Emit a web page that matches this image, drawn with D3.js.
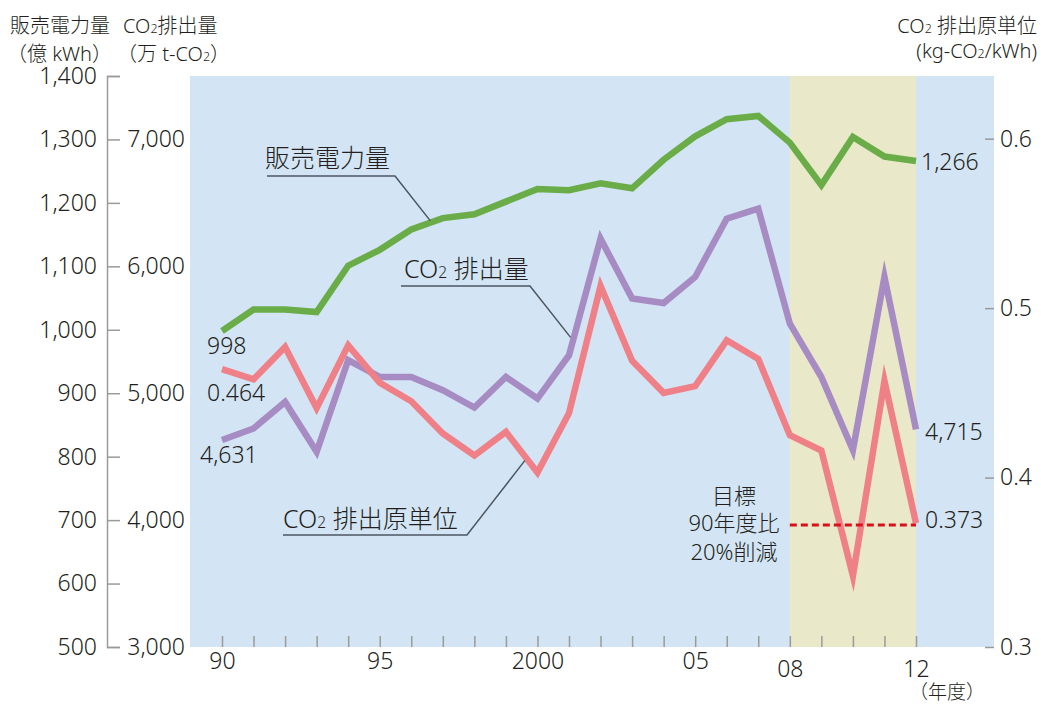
<!DOCTYPE html>
<html>
<head>
<meta charset="utf-8">
<title>販売電力量・CO2排出量・CO2排出原単位</title>
<script src="https://cdn.jsdelivr.net/npm/d3@7"></script>
<style>
  body { margin: 0; background: #fff; }
  svg text { font-family: "Noto Sans", "Noto Sans CJK JP", sans-serif; font-weight: 300; fill: #231f20; }
</style>
</head>
<body>
<div id="chart"></div>
<script>
// data (fiscal years 1990-2012)
var years = [1990, 1991, 1992, 1993, 1994, 1995, 1996, 1997, 1998, 1999, 2000, 2001,
             2002, 2003, 2004, 2005, 2006, 2007, 2008, 2009, 2010, 2011, 2012];
// 販売電力量 (億kWh)
var sales = [998, 1032, 1032, 1028, 1101, 1126, 1158, 1176, 1182, 1202, 1222, 1220,
             1231, 1223, 1268, 1305, 1332, 1337, 1295, 1228, 1304, 1273, 1266];
// CO2排出量 (万t-CO2)
var co2 = [4631, 4722, 4931, 4538, 5260, 5128, 5128, 5024, 4887, 5128, 4958, 5299,
           6218, 5746, 5711, 5916, 6376, 6454, 5549, 5128, 4551, 5916, 4715];
// CO2排出原単位 (kg-CO2/kWh)
var intensity = [0.464, 0.458, 0.477, 0.441, 0.478, 0.456, 0.445, 0.426, 0.413, 0.427, 0.403, 0.438,
                 0.513, 0.469, 0.450, 0.454, 0.481, 0.470, 0.425, 0.416, 0.342, 0.457, 0.373];

var labelYears = [1990, 1995, 2000, 2005, 2008, 2012];
var yearLabels = ["90", "95", "2000", "05", "08", "12"];
var salesTicks = [500, 600, 700, 800, 900, 1000, 1100, 1200, 1300, 1400];
var co2Ticks = [3000, 4000, 5000, 6000, 7000];
var intensityTicks = [0.3, 0.4, 0.5, 0.6];
var bandYears = [2008, 2012];
var target = 0.372;   // 90年度比20%削減

var width = 1041, height = 706;
var plotTop = 76, plotBottom = 647, plotLeft = 190, plotRight = 994;

var svg = d3.select("#chart").append("svg")
    .attr("width", width)
    .attr("height", height);

var x = d3.scaleLinear().domain([1990, 2012]).range([222, 916]);
var ySales = d3.scaleLinear().domain([500, 1400]).range([plotBottom, plotTop]);
var yCo2 = d3.scaleLinear().domain([3000, 7500]).range([plotBottom, plotTop]);
var yInt = d3.scaleLinear().domain([0.3, 0.637]).range([plotBottom, plotTop]);

// background + 2008-2012 band
svg.append("rect")
    .attr("x", plotLeft).attr("y", plotTop)
    .attr("width", plotRight - plotLeft).attr("height", plotBottom - plotTop)
    .attr("fill", "#d3e5f4");
svg.append("rect")
    .attr("x", x(bandYears[0])).attr("y", plotTop)
    .attr("width", x(bandYears[1]) - x(bandYears[0])).attr("height", plotBottom - plotTop)
    .attr("fill", "#e9e9c9");

// x axis: small ticks inside the plot
var xAxis = svg.append("g")
    .attr("transform", "translate(0," + plotBottom + ")")
    .call(d3.axisBottom(x).tickValues(years).tickSize(-11).tickSizeOuter(0).tickPadding(6)
        .tickFormat(function(d) {
            var i = labelYears.indexOf(d);
            return i >= 0 ? yearLabels[i] : "";
        }));
xAxis.select(".domain").remove();
xAxis.selectAll(".tick line").attr("stroke", "#9a9a9a").attr("stroke-width", 1.5);
xAxis.selectAll(".tick text")
    .attr("font-size", 23)
    .attr("fill", "#231f20")
    .attr("dy", function(d) { return d >= 2008 ? "1.05em" : "0.71em"; });

svg.append("text")
    .attr("x", 947).attr("y", 692).attr("dy", "0.35em")
    .attr("text-anchor", "middle").attr("font-size", 19)
    .text("（年度）");

// left axis 販売電力量
var leftAxis = svg.append("g")
    .attr("transform", "translate(107,0)")
    .call(d3.axisLeft(ySales).tickValues(salesTicks).tickSize(-13).tickPadding(10)
        .tickFormat(d3.format(",")));
leftAxis.select(".domain").attr("stroke", "#9a9a9a").attr("stroke-width", 1.5);
leftAxis.selectAll(".tick line").attr("stroke", "#9a9a9a").attr("stroke-width", 1.5);
leftAxis.selectAll(".tick text").attr("font-size", 23).attr("fill", "#231f20");

// second left axis CO2排出量 (labels only)
var co2Axis = svg.append("g")
    .attr("transform", "translate(185,0)")
    .call(d3.axisLeft(yCo2).tickValues(co2Ticks).tickSize(0).tickPadding(0)
        .tickFormat(d3.format(",")));
co2Axis.select(".domain").remove();
co2Axis.selectAll(".tick text").attr("font-size", 23).attr("fill", "#231f20");

// right axis CO2排出原単位
var rightAxis = svg.append("g")
    .attr("transform", "translate(" + plotRight + ",0)")
    .call(d3.axisRight(yInt).tickValues(intensityTicks).tickSize(-9).tickPadding(6)
        .tickFormat(d3.format(".1f")));
rightAxis.select(".domain").remove();
rightAxis.selectAll(".tick line").attr("stroke", "#9a9a9a").attr("stroke-width", 1.5);
rightAxis.selectAll(".tick text").attr("font-size", 23).attr("fill", "#231f20");

// axis headers
function co2Text(sel, before, after) {
    sel.append("tspan").text(before + "CO");
    sel.append("tspan").attr("font-size", "62%").text("2");
    sel.append("tspan").text(after);
}
svg.append("text").attr("x", 10).attr("y", 33).attr("font-size", 20).text("販売電力量");
svg.append("text").attr("x", 7).attr("y", 61).attr("font-size", 20).text("（億 kWh）");
co2Text(svg.append("text").attr("x", 123).attr("y", 33).attr("font-size", 20), "", "排出量");
co2Text(svg.append("text").attr("x", 117).attr("y", 61).attr("font-size", 20), "（万 t-", "）");
co2Text(svg.append("text").attr("x", 1037).attr("y", 33).attr("text-anchor", "end").attr("font-size", 20), "", " 排出原単位");
co2Text(svg.append("text").attr("x", 1037).attr("y", 58).attr("text-anchor", "end").attr("font-size", 20), "(kg-", "/kWh)");

// series lines
function drawLine(values, scale, color) {
    var line = d3.line()
        .x(function(d, i) { return x(years[i]); })
        .y(function(d) { return scale(d); });
    svg.append("path")
        .datum(values)
        .attr("d", line)
        .attr("fill", "none")
        .attr("stroke", color)
        .attr("stroke-width", 6.5)
        .attr("stroke-linejoin", "miter")
        .attr("stroke-miterlimit", 10);
}
drawLine(co2, yCo2, "#a78bc3");
drawLine(intensity, yInt, "#ef8087");
drawLine(sales, ySales, "#6aad48");

// target line
svg.append("line")
    .attr("x1", x(bandYears[0])).attr("x2", x(bandYears[1]))
    .attr("y1", yInt(target)).attr("y2", yInt(target))
    .attr("stroke", "#d7101c").attr("stroke-width", 3)
    .attr("stroke-dasharray", "7,4");

var tg = svg.append("text").attr("text-anchor", "middle").attr("font-size", 22);
tg.append("tspan").attr("x", 734).attr("y", 504).text("目標");
tg.append("tspan").attr("x", 734).attr("y", 531).text("90年度比");
tg.append("tspan").attr("x", 734).attr("y", 560).text("20%削減");

// start / end value labels
var last = years.length - 1;
function valueLabel(px, py, txt) {
    svg.append("text").attr("x", px).attr("y", py).attr("dy", "0.35em")
        .attr("font-size", 23).text(txt);
}
valueLabel(x(years[0]) - 15, ySales(sales[0]) + 15, d3.format(",")(sales[0]));
valueLabel(x(years[0]) - 15, yInt(intensity[0]) + 24, d3.format(".3f")(intensity[0]));
valueLabel(x(years[0]) - 22, yCo2(co2[0]) + 15, d3.format(",")(co2[0]));
valueLabel(x(years[last]) + 5, ySales(sales[last]) + 1, d3.format(",")(sales[last]));
valueLabel(x(years[last]) + 9, yCo2(co2[last]) + 3, d3.format(",")(co2[last]));
valueLabel(x(years[last]) + 9, yInt(intensity[last]) - 3, d3.format(".3f")(intensity[last]));

// series name annotations with leader lines
function annotate(tx, ty, ux1, ux2, uy, ex, ey, build) {
    var t = svg.append("text").attr("x", tx).attr("y", ty).attr("font-size", 25);
    build(t);
    svg.append("path")
        .attr("d", "M" + ux1 + "," + uy + "H" + ux2 + "L" + ex + "," + ey)
        .attr("fill", "none")
        .attr("stroke", "#4c5661")
        .attr("stroke-width", 1.5);
}
annotate(265, 167, 267, 395, 176, x(1996.6), ySales(1172),
    function(t) { t.text("販売電力量"); });
annotate(404, 278, 401, 530, 286, x(2001.05), yCo2(5440),
    function(t) { co2Text(t, "", " 排出量"); });
annotate(283, 528, 283, 467, 535, x(1999.6), yInt(0.41),
    function(t) { co2Text(t, "", " 排出原単位"); });
</script>
</body>
</html>
